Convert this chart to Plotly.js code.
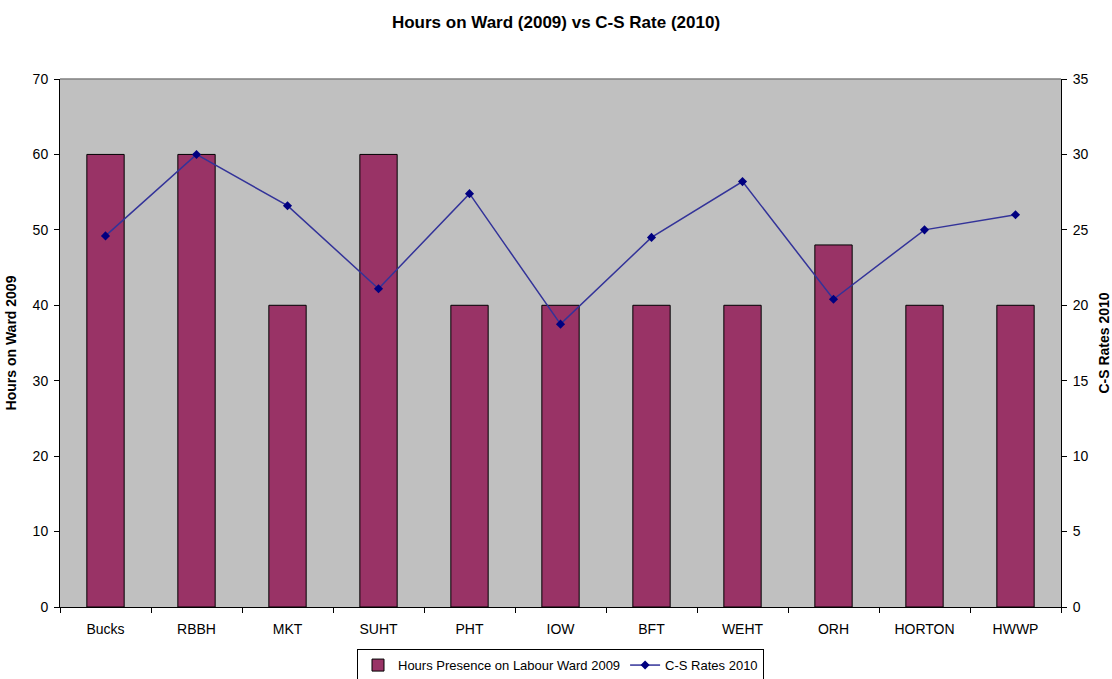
<!DOCTYPE html>
<html>
<head>
<meta charset="utf-8">
<script src="https://cdn.plot.ly/plotly-3.0.1.min.js"></script>
<style>html,body{margin:0;padding:0;background:#fff;}#chart{width:1112px;height:679px;}</style>
</head>
<body>
<div id="chart"></div>
<script>
const categories = ["Bucks","RBBH","MKT","SUHT","PHT","IOW","BFT","WEHT","ORH","HORTON","HWWP"];
const hoursOnWard2009 = [60,60,40,60,40,40,40,40,48,40,40];
const csRates2010 = [24.6,30.0,26.6,21.1,27.4,18.75,24.5,28.2,20.4,25.0,26.0];
const leftTicks = [0,10,20,30,40,50,60,70];
const rightTicks = [0,5,10,15,20,25,30,35];

const font = "Liberation Sans, Arial, sans-serif";

const traces = [
  {
    type: "bar",
    name: "Hours Presence on Labour Ward 2009",
    x: categories,
    y: hoursOnWard2009,
    marker: {color: "#993366", line: {color: "#000000", width: 1}},
    yaxis: "y"
  },
  {
    type: "scatter",
    mode: "lines+markers",
    name: "C-S Rates 2010",
    x: categories,
    y: csRates2010,
    line: {color: "#333399", width: 1.5},
    marker: {symbol: "diamond", size: 7, color: "#000080"},
    yaxis: "y2"
  }
];

const layout = {
  width: 1112,
  height: 679,
  paper_bgcolor: "#ffffff",
  plot_bgcolor: "#c0c0c0",
  margin: {l: 60, r: 51, t: 79, b: 72, autoexpand: false},
  bargap: 0.59,
  showlegend: true,
  title: {
    text: "<b>Hours on Ward (2009) vs C-S Rate (2010)</b>",
    font: {family: font, size: 17, color: "#000"},
    x: 0.5, xanchor: "center", y: 0.968, yanchor: "middle"
  },
  font: {family: font, size: 14, color: "#000"},
  xaxis: {
    type: "category",
    range: [-0.5, categories.length - 0.5],
    showline: true, linecolor: "#000", linewidth: 1,
    ticks: "outside", tickson: "boundaries", ticklen: 5, tickcolor: "#000",
    showgrid: false, zeroline: false,
    tickfont: {family: font, size: 14, color: "#000"},
    ticklabelstandoff: 9
  },
  yaxis: {
    range: [0, 70],
    tickvals: leftTicks,
    showline: true, linecolor: "#000", linewidth: 1,
    ticks: "outside", ticklen: 5, tickcolor: "#000",
    showgrid: false, zeroline: false,
    tickfont: {family: font, size: 14, color: "#000"},
    ticklabelstandoff: 3,
    title: {text: "<b>Hours on Ward 2009</b>", font: {family: font, size: 14, color: "#000"}, standoff: 12}
  },
  yaxis2: {
    range: [0, 35],
    tickvals: rightTicks,
    overlaying: "y",
    side: "right",
    showline: true, linecolor: "#000", linewidth: 1,
    ticks: "outside", ticklen: 5, tickcolor: "#000",
    showgrid: false, zeroline: false,
    tickfont: {family: font, size: 14, color: "#000"},
    ticklabelstandoff: 3,
    title: {text: "<b>C-S Rates 2010</b>", font: {family: font, size: 14, color: "#000"}, standoff: 12}
  },
  legend: {
    orientation: "h",
    x: 0.5, xanchor: "center",
    yref: "container",
    y: 0.044, yanchor: "top",
    bgcolor: "#ffffff",
    bordercolor: "#000000",
    borderwidth: 1,
    font: {family: font, size: 13, color: "#000"}
  },
  shapes: [
    {type: "line", xref: "paper", yref: "paper", x0: 0, x1: 1, y0: 1, y1: 1, line: {color: "#808080", width: 1.5}}
  ]
};

Plotly.newPlot("chart", traces, layout, {displayModeBar: false, staticPlot: true});
</script>
</body>
</html>
